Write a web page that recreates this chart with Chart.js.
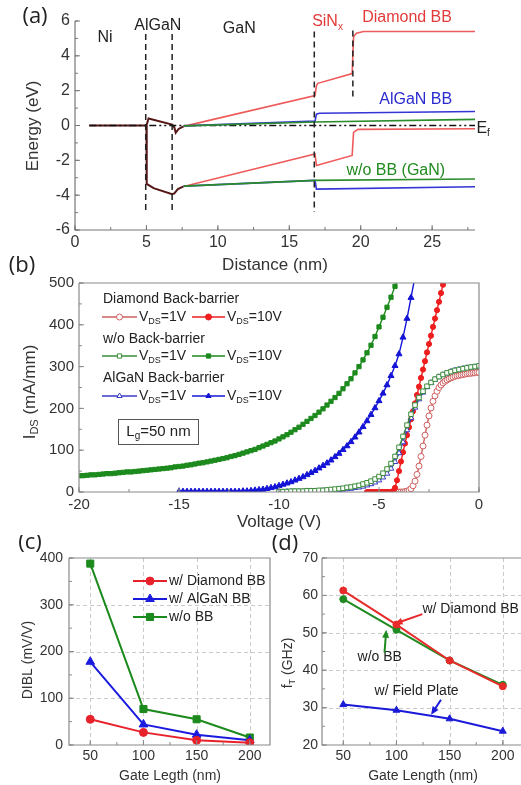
<!DOCTYPE html>
<html>
<head>
<meta charset="utf-8">
<script src="https://cdn.jsdelivr.net/npm/chart.js@4.4.1/dist/chart.umd.min.js"></script>
<style>
  html, body { margin: 0; padding: 0; background: #fff; overflow: hidden; width: 521px; height: 785px; }
  canvas { position: absolute; }
</style>
</head>
<body>
<canvas id="chartA" width="521" height="275" style="left:0;top:0;width:521px;height:275px"></canvas>
<canvas id="chartB" width="521" height="280" style="left:0;top:255px;width:521px;height:280px"></canvas>
<canvas id="chartC" width="280" height="250" style="left:0;top:535px;width:280px;height:250px"></canvas>
<canvas id="chartD" width="275" height="250" style="left:260px;top:535px;width:275px;height:250px"></canvas>
<script>
// ---------- (a) band diagram, points are [distance nm, energy eV] ----------
const sharedEc = [[1, 0], [5, 0], [5.15, 0.4], [6.8, 0.05], [6.95, -0.1], [7.05, -0.42], [7.25, -0.2], [7.6, -0.05]];
const sharedEv = [[5, 0], [5.02, -3.35], [5.5, -3.6], [6.8, -3.95], [6.95, -3.9], [7.2, -3.65], [7.6, -3.5]];
const diamondEc = [[7.6, -0.05], [16.8, 1.72], [16.9, 2.3], [17.0, 2.42], [19.4, 2.98], [19.5, 5.1], [19.7, 5.3], [20.2, 5.4], [28, 5.4]];
const diamondEv = [[7.6, -3.5], [16.8, -1.63], [16.9, -2.3], [19.4, -1.72], [19.5, -0.4], [19.8, -0.22], [28, -0.19]];
const alganEc = [[7.6, -0.02], [16.8, 0.25], [16.9, 0.65], [17.1, 0.7], [28, 0.8]];
const alganEv = [[7.6, -3.48], [16.8, -3.15], [16.9, -3.65], [28, -3.52]];
const ganEc = [[7.6, -0.02], [16.8, 0.2], [28, 0.35]];
const ganEv = [[7.6, -3.48], [16.8, -3.15], [28, -3.07]];
const fermiLevel = [[1, 0], [28, 0]];
const interfaceX = [4.95, 6.8, 16.75, 19.45];
const interfaceTop = [5.26, 5.26, 5.39, 5.45];
const interfaceBottom = [-5.06, -5.06, -4.97, 1.43];

// ---------- (b) transfer curves, I_DS (mA/mm) on a voltage sweep ----------
// sweep start (V), sweep step (V), currents
const green10Start = -20, green10Step = 0.2;
const green10 = [39, 39, 40, 41, 41, 42, 43, 44, 44, 45, 46, 47, 48, 48, 49, 50, 51, 52, 53, 54,
  55, 56, 57, 58, 60, 61, 62, 64, 65, 67, 69, 70, 72, 74, 76, 78, 80, 82, 85, 87,
  90, 93, 96, 99, 102, 106, 110, 114, 118, 122, 127, 132, 137, 143, 149, 155, 162, 169, 176, 183,
  191, 199, 208, 217, 226, 236, 247, 259, 271, 285, 300, 316, 333, 351, 372, 395, 418, 442, 466, 492,
  518, 545];
const blue10Start = -15, blue10Step = 0.2;
const blue10 = [1, 1, 1, 1, 1, 1, 1, 1, 1, 1, 1, 1, 1, 1, 1, 1, 2, 2, 3, 4,
  5, 6, 8, 10, 12, 15, 18, 21, 24, 28, 32, 36, 41, 46, 51, 57, 63, 69, 76, 84,
  92, 101, 110, 120, 131, 143, 156, 170, 185, 201, 218, 236, 256, 278, 302, 330, 370, 415, 465, 515];
const red10Start = -5.6, red10Step = 0.1;
const red10 = [0, 0, 0, 0, 0, 0, 0, 0, 0, 0, 0, 0, 0, 2, 10, 28, 50, 73, 95, 116,
  136, 155, 174, 193, 212, 232, 252, 273, 293, 313, 334, 354, 374, 395, 415, 435, 455, 476, 496, 516];
const red1Start = -4, red1Step = 0.1;
const red1 = [0, 0, 0, 1, 2, 4, 8, 15, 26, 42, 62, 85, 110, 136, 160, 182, 201, 217, 230, 241,
  250, 256, 261, 265, 268, 271, 273, 275, 277, 278, 279, 280, 281, 282, 283, 284, 284, 285, 285, 286, 286];
const green1Start = -10, green1Step = 0.2;
const green1 = [1, 1, 1, 2, 2, 2, 2, 3, 3, 3, 4, 4, 5, 6, 7, 8, 9, 11, 12, 14,
  16, 19, 22, 26, 31, 37, 45, 55, 68, 85, 107, 133, 160, 186, 208, 226, 241, 253, 262, 270,
  276, 281, 285, 288, 291, 293, 295, 297, 299, 300, 302];
const blue1Start = -10, blue1Step = 0.2;
const blue1 = [0, 0, 1, 1, 1, 1, 1, 2, 2, 2, 2, 3, 3, 4, 4, 5, 6, 7, 8, 10,
  11, 13, 16, 19, 23, 28, 35, 44, 56, 72, 93, 119, 148, 177, 202, 222, 238, 251, 261, 269,
  275, 280, 284, 288, 291, 293, 295, 297, 298, 299, 300];

// ---------- (c) DIBL and (d) fT vs gate length ----------
const gateLength = [50, 100, 150, 200];
const diblDiamond = [55, 27, 10, 5];
const diblAlgan = [178, 44, 22, 10];
const diblNoBB = [388, 77, 55, 16];
const ftDiamond = [61.3, 52.2, 42.6, 35.7];
const ftNoBB = [59.0, 50.8, 42.6, 36.1];
const ftFieldPlate = [30.8, 29.3, 27.0, 23.7];

const FONT = '"Liberation Sans", Arial, sans-serif';
Chart.defaults.font.family = FONT;
Chart.defaults.color = '#333';

const RED_A = '#ee5b5b', BLUE_A = '#3535d6', GREEN_A = '#2b8c2b', DARK_A = '#561616';

// text with optional subscripts: parts = [[text, 'sub'?], ...]
function rich(ctx, x, y, parts, size, color, align, rot) {
  ctx.save();
  ctx.translate(x, y);
  if (rot) ctx.rotate(rot);
  ctx.fillStyle = color;
  ctx.textBaseline = 'middle';
  ctx.textAlign = 'left';
  const sub = Math.round(size * 0.64);
  const widths = parts.map(p => {
    ctx.font = (p[1] === 'sub' ? sub : size) + 'px ' + FONT;
    return ctx.measureText(p[0]).width;
  });
  const total = widths.reduce((a, b) => a + b, 0);
  let cx = align === 'left' ? 0 : align === 'right' ? -total : -total / 2;
  parts.forEach((p, i) => {
    ctx.font = (p[1] === 'sub' ? sub : size) + 'px ' + FONT;
    ctx.fillText(p[0], cx, p[1] === 'sub' ? size * 0.32 : 0);
    cx += widths[i];
  });
  ctx.restore();
}

function panelLabel(ctx, x, y, txt) {
  ctx.save();
  ctx.font = '22px "Open Sans", sans-serif';
  ctx.fillStyle = '#222';
  ctx.textAlign = 'center';
  ctx.textBaseline = 'middle';
  ctx.fillText(txt, x, y);
  ctx.restore();
}

function marker(ctx, style, x, y, r, color, open) {
  ctx.save();
  ctx.strokeStyle = color;
  ctx.fillStyle = open ? '#fff' : color;
  ctx.lineWidth = 1;
  ctx.beginPath();
  if (style === 'circle') ctx.arc(x, y, r, 0, Math.PI * 2);
  else if (style === 'rect') { const s = r * Math.SQRT1_2; ctx.rect(x - s, y - s, 2 * s, 2 * s); }
  else { ctx.moveTo(x, y - r); ctx.lineTo(x + r * 0.866, y + r * 0.5); ctx.lineTo(x - r * 0.866, y + r * 0.5); ctx.closePath(); }
  ctx.fill();
  ctx.stroke();
  ctx.restore();
}

function arrow(ctx, x1, y1, x2, y2, color) {
  const a = Math.atan2(y2 - y1, x2 - x1), L = 8, W = 3.5;
  ctx.save();
  ctx.strokeStyle = color; ctx.fillStyle = color; ctx.lineWidth = 2;
  ctx.beginPath();
  ctx.moveTo(x1, y1);
  ctx.lineTo(x2 - L * 0.7 * Math.cos(a), y2 - L * 0.7 * Math.sin(a));
  ctx.stroke();
  ctx.beginPath();
  ctx.moveTo(x2, y2);
  ctx.lineTo(x2 - L * Math.cos(a) + W * Math.sin(a), y2 - L * Math.sin(a) - W * Math.cos(a));
  ctx.lineTo(x2 - L * Math.cos(a) - W * Math.sin(a), y2 - L * Math.sin(a) + W * Math.cos(a));
  ctx.closePath();
  ctx.fill();
  ctx.restore();
}

// axes, inside ticks and dashed grid
const framePlugin = {
  id: 'frame',
  beforeDatasetsDraw(chart, args, o) {
    if (!o.grid) return;
    const { ctx, chartArea: a } = chart;
    const xs = chart.scales.x, ys = chart.scales.y;
    ctx.save();
    ctx.strokeStyle = '#cacaca'; ctx.lineWidth = 1; ctx.setLineDash([4, 3]);
    ctx.beginPath();
    xs.ticks.forEach(t => {
      if (t.value === xs.min || t.value === xs.max) return;
      const p = Math.round(xs.getPixelForValue(t.value)) + 0.5;
      ctx.moveTo(p, a.top); ctx.lineTo(p, a.bottom);
    });
    ys.ticks.forEach(t => {
      if (t.value === ys.min || t.value === ys.max) return;
      const p = Math.round(ys.getPixelForValue(t.value)) + 0.5;
      ctx.moveTo(a.left, p); ctx.lineTo(a.right, p);
    });
    ctx.stroke();
    ctx.restore();
  },
  afterDatasetsDraw(chart, args, o) {
    const { ctx, chartArea: a } = chart;
    const xs = chart.scales.x, ys = chart.scales.y;
    ctx.save();
    ctx.strokeStyle = o.color || '#777';
    ctx.lineWidth = 1.2;
    ctx.beginPath();
    ctx.moveTo(a.left, a.top); ctx.lineTo(a.left, a.bottom); ctx.lineTo(a.right, a.bottom);
    if (o.box) { ctx.lineTo(a.right, a.top); ctx.lineTo(a.left, a.top); }
    ctx.stroke();
    ctx.lineWidth = 1;
    ctx.beginPath();
    const marks = (scale, step, len, horiz) => {
      for (let v = Math.ceil(scale.min / step - 1e-9) * step; v <= scale.max + 1e-9; v += step) {
        const p = scale.getPixelForValue(v);
        if (horiz) { ctx.moveTo(p, a.bottom); ctx.lineTo(p, a.bottom - len); }
        else { ctx.moveTo(a.left, p); ctx.lineTo(a.left + len, p); }
      }
    };
    marks(xs, o.xMinor, 3, true);
    marks(ys, o.yMinor, 3, false);
    xs.ticks.forEach(t => { const p = xs.getPixelForValue(t.value); ctx.moveTo(p, a.bottom); ctx.lineTo(p, a.bottom - 5); });
    ys.ticks.forEach(t => { const p = ys.getPixelForValue(t.value); ctx.moveTo(a.left, p); ctx.lineTo(a.left + 5, p); });
    ctx.stroke();
    ctx.restore();
  }
};
Chart.register(framePlugin);

function axis(min, max, step, size, fontSize, pad, isX) {
  return {
    type: 'linear', min, max,
    grid: { display: false, drawTicks: false },
    border: { display: false },
    ticks: { stepSize: step, includeBounds: false, autoSkip: false, maxRotation: 0, padding: pad, font: { size: fontSize }, color: '#333' },
    afterFit(s) { if (isX) s.height = size; else s.width = size; }
  };
}

function options(padding, x, y, frame) {
  return {
    responsive: false, animation: false, devicePixelRatio: 1,
    layout: { padding },
    scales: { x, y },
    plugins: { legend: { display: false }, tooltip: { enabled: false }, frame }
  };
}

function curve(points, color, width, dash) {
  return {
    data: points.map(p => ({ x: p[0], y: p[1] })),
    showLine: true, borderColor: color, borderWidth: width, borderDash: dash || [],
    pointRadius: 0, pointHoverRadius: 0, fill: false
  };
}

function sweep(start, step, values) {
  return values.map((v, i) => ({ x: +(start + i * step).toFixed(2), y: v }));
}

function ivSet(points, color, style, radius, open) {
  return {
    data: points, showLine: true, borderColor: color, borderWidth: 1.4,
    pointStyle: style, pointRadius: radius, pointHoverRadius: 0, pointBorderWidth: 1,
    pointBorderColor: color, pointBackgroundColor: open ? '#fff' : color
  };
}

function glSet(values, color, style, radius) {
  return {
    data: gateLength.map((g, i) => ({ x: g, y: values[i] })), showLine: true,
    borderColor: color, borderWidth: 2, pointStyle: style, pointRadius: radius, pointHoverRadius: 0,
    pointBackgroundColor: color, pointBorderColor: color, pointBorderWidth: 1
  };
}

// ---------- chart (a) ----------
const dashed = interfaceX.map((x, i) => curve([[x, interfaceTop[i]], [x, interfaceBottom[i]]], '#222', 1.5, [6, 4]));
new Chart(document.getElementById('chartA'), {
  type: 'scatter',
  data: {
    datasets: [
      ...dashed,
      curve(ganEc, GREEN_A, 1.6), curve(ganEv, GREEN_A, 1.6),
      curve(alganEc, BLUE_A, 1.6), curve(alganEv, BLUE_A, 1.6),
      curve(diamondEc, RED_A, 1.6), curve(diamondEv, RED_A, 1.6),
      curve(fermiLevel, '#111', 1.5, [7, 3, 2, 3, 2, 3]),
      curve(sharedEc, DARK_A, 2), curve(sharedEv, DARK_A, 2)
    ]
  },
  options: options({ left: 0, right: 46, top: 21, bottom: 0 },
    axis(0, 28, 5, 45, 16, 3, true), axis(-6, 6, 2, 75, 16, 5, false),
    { box: false, xMinor: 2.5, yMinor: 1, color: '#777' }),
  plugins: [{
    id: 'notesA',
    afterDraw(chart) {
      const ctx = chart.ctx, xs = chart.scales.x, ys = chart.scales.y;
      const at = (x, y) => [xs.getPixelForValue(x), ys.getPixelForValue(y)];
      let p;
      p = at(2.1, 5.05); rich(ctx, p[0], p[1], [['Ni']], 16, '#222', 'center');
      p = at(5.8, 5.73); rich(ctx, p[0], p[1], [['AlGaN']], 16, '#222', 'center');
      p = at(11.5, 5.56); rich(ctx, p[0], p[1], [['GaN']], 16, '#222', 'center');
      p = at(16.6, 5.96); rich(ctx, p[0], p[1], [['SiN'], ['x', 'sub']], 16, '#e23a3a', 'left');
      p = at(20.1, 6.2); rich(ctx, p[0], p[1], [['Diamond BB']], 16, '#e23a3a', 'left');
      p = at(21.3, 1.49); rich(ctx, p[0], p[1], [['AlGaN BB']], 16, '#2a2ad0', 'left');
      p = at(19.0, -2.58); rich(ctx, p[0], p[1], [['w/o BB (GaN)']], 16, '#1f8a1f', 'left');
      p = at(28.1, -0.17); rich(ctx, p[0], p[1], [['E'], ['f', 'sub']], 16, '#222', 'left');
      rich(ctx, 275, 265, [['Distance (nm)']], 17, '#333', 'center');
      rich(ctx, 33, 126, [['Energy (eV)']], 17, '#333', 'center', -Math.PI / 2);
      panelLabel(ctx, 35, 17, '(a)');
    }
  }]
});

// ---------- chart (b) ----------
const C_R10 = '#ee1e1e', C_R1 = '#cf6060', C_G = '#1d8a1d', C_G1 = '#3a8c3a', C_B = '#1414d6', C_B1 = '#3a3ac8';
new Chart(document.getElementById('chartB'), {
  type: 'scatter',
  data: {
    datasets: [
      ivSet(sweep(green10Start, green10Step, green10), C_G, 'rect', 3, false),
      ivSet(sweep(blue10Start, blue10Step, blue10), C_B, 'triangle', 3.5, false),
      ivSet(sweep(green1Start, green1Step, green1), C_G1, 'rect', 3.2, true),
      ivSet(sweep(blue1Start, blue1Step, blue1), C_B1, 'triangle', 3.2, true),
      ivSet(sweep(red10Start, red10Step, red10), C_R10, 'circle', 2.6, false),
      ivSet(sweep(red1Start, red1Step, red1), C_R1, 'circle', 3, true)
    ]
  },
  options: options({ left: 0, right: 42, top: 28, bottom: 0 },
    axis(-20, 0, 5, 43, 15, 4, true), axis(0, 500, 100, 79, 15, 5, false),
    { box: true, xMinor: 2.5, yMinor: 50, color: '#8a8a8a' }),
  plugins: [{
    id: 'notesB',
    afterDraw(chart) {
      const ctx = chart.ctx;
      const row = (y, c1, c2, style) => {
        ctx.save(); ctx.lineWidth = 1.5;
        ctx.strokeStyle = c1; ctx.beginPath(); ctx.moveTo(102, y); ctx.lineTo(137, y); ctx.stroke();
        ctx.strokeStyle = c2; ctx.beginPath(); ctx.moveTo(192, y); ctx.lineTo(225, y); ctx.stroke();
        ctx.restore();
        marker(ctx, style, 119.5, y, 3, c1, true);
        marker(ctx, style, 208.5, y, 3, c2, false);
        rich(ctx, 139, y, [['V'], ['DS', 'sub'], ['=1V']], 14, '#222', 'left');
        rich(ctx, 227, y, [['V'], ['DS', 'sub'], ['=10V']], 14, '#222', 'left');
      };
      rich(ctx, 103, 44, [['Diamond Back-barrier']], 14, '#222', 'left');
      row(62, C_R1, C_R10, 'circle');
      rich(ctx, 103, 84, [['w/o Back-barrier']], 14, '#222', 'left');
      row(101, C_G1, C_G, 'rect');
      rich(ctx, 103, 123, [['AlGaN Back-barrier']], 14, '#222', 'left');
      row(141, C_B1, C_B, 'triangle');
      ctx.save(); ctx.strokeStyle = '#555'; ctx.lineWidth = 1;
      ctx.strokeRect(118.5, 164.5, 80, 25); ctx.restore();
      rich(ctx, 158.5, 176.5, [['L'], ['g', 'sub'], ['=50 nm']], 15, '#222', 'center');
      rich(ctx, 279, 267, [['Voltage (V)']], 17, '#333', 'center');
      rich(ctx, 30, 137, [['I'], ['DS', 'sub'], [' (mA/mm)']], 17, '#333', 'center', -Math.PI / 2);
      panelLabel(ctx, 22, 11, '(b)');
    }
  }]
});

// ---------- chart (c) ----------
const C_RC = '#e8222a', C_BC = '#1b1be0', C_GC = '#1c8a1c';
new Chart(document.getElementById('chartC'), {
  type: 'scatter',
  data: {
    datasets: [
      glSet(diblDiamond, C_RC, 'circle', 4),
      glSet(diblAlgan, C_BC, 'triangle', 5),
      glSet(diblNoBB, C_GC, 'rect', 5)
    ]
  },
  options: options({ left: 0, right: 10, top: 23, bottom: 0 },
    axis(30, 219, 50, 40, 14, 3, true), axis(0, 400, 100, 69, 14, 6, false),
    { box: true, grid: true, xMinor: 25, yMinor: 50, color: '#8a8a8a' }),
  plugins: [{
    id: 'notesC',
    afterDraw(chart) {
      const ctx = chart.ctx;
      const item = (y, color, style, r, label) => {
        ctx.save(); ctx.strokeStyle = color; ctx.lineWidth = 2;
        ctx.beginPath(); ctx.moveTo(133, y); ctx.lineTo(167, y); ctx.stroke(); ctx.restore();
        marker(ctx, style, 150, y, r, color, false);
        rich(ctx, 169, y, [[label]], 14, '#222', 'left');
      };
      item(46, C_RC, 'circle', 4, 'w/ Diamond BB');
      item(64, C_BC, 'triangle', 5, 'w/ AlGaN BB');
      item(82, C_GC, 'rect', 5, 'w/o BB');
      rich(ctx, 170, 241, [['Gate Legth (nm)']], 14, '#333', 'center');
      rich(ctx, 28, 125, [['DIBL (mV/V)']], 14, '#333', 'center', -Math.PI / 2);
      panelLabel(ctx, 30, 8, '(c)');
    }
  }]
});

// ---------- chart (d) ----------
const C_RD = '#e82a2a', C_GD = '#1f8a1f', C_BD = '#1a1ad8';
new Chart(document.getElementById('chartD'), {
  type: 'scatter',
  data: {
    datasets: [
      glSet(ftDiamond, C_RD, 'circle', 3.5),
      glSet(ftNoBB, C_GD, 'circle', 3.5),
      glSet(ftFieldPlate, C_BD, 'triangle', 4)
    ]
  },
  options: options({ left: 0, right: 12, top: 23, bottom: 0 },
    axis(30, 219, 50, 40, 14, 3, true), axis(20, 70, 10, 62, 14, 4, false),
    { box: true, grid: true, xMinor: 25, yMinor: 5, color: '#8a8a8a' }),
  plugins: [{
    id: 'notesD',
    afterDraw(chart) {
      const ctx = chart.ctx, xs = chart.scales.x, ys = chart.scales.y;
      const at = (x, y) => [xs.getPixelForValue(x), ys.getPixelForValue(y)];
      let p = at(124.4, 56.2), q;
      rich(ctx, p[0], p[1], [['w/ Diamond BB']], 14, '#222', 'left');
      p = at(124.4, 55.0); q = at(98.2, 52.4); arrow(ctx, p[0], p[1], q[0], q[1], '#e82a2a');
      p = at(63.4, 43.6);
      rich(ctx, p[0], p[1], [['w/o BB']], 14, '#222', 'left');
      p = at(88.8, 44.7); q = at(90.4, 50.8); arrow(ctx, p[0], p[1], q[0], q[1], '#1f8a1f');
      p = at(79.4, 34.3);
      rich(ctx, p[0], p[1], [['w/ Field Plate']], 14, '#222', 'left');
      p = at(141.9, 32.1); q = at(132.6, 28.1); arrow(ctx, p[0], p[1], q[0], q[1], '#1a1ad8');
      rich(ctx, 163, 241, [['Gate Length (nm)']], 14, '#333', 'center');
      rich(ctx, 28, 128, [['f'], ['T', 'sub'], [' (GHz)']], 14, '#333', 'center', -Math.PI / 2);
      panelLabel(ctx, 25, 9, '(d)');
    }
  }]
});
</script>
</body>
</html>
